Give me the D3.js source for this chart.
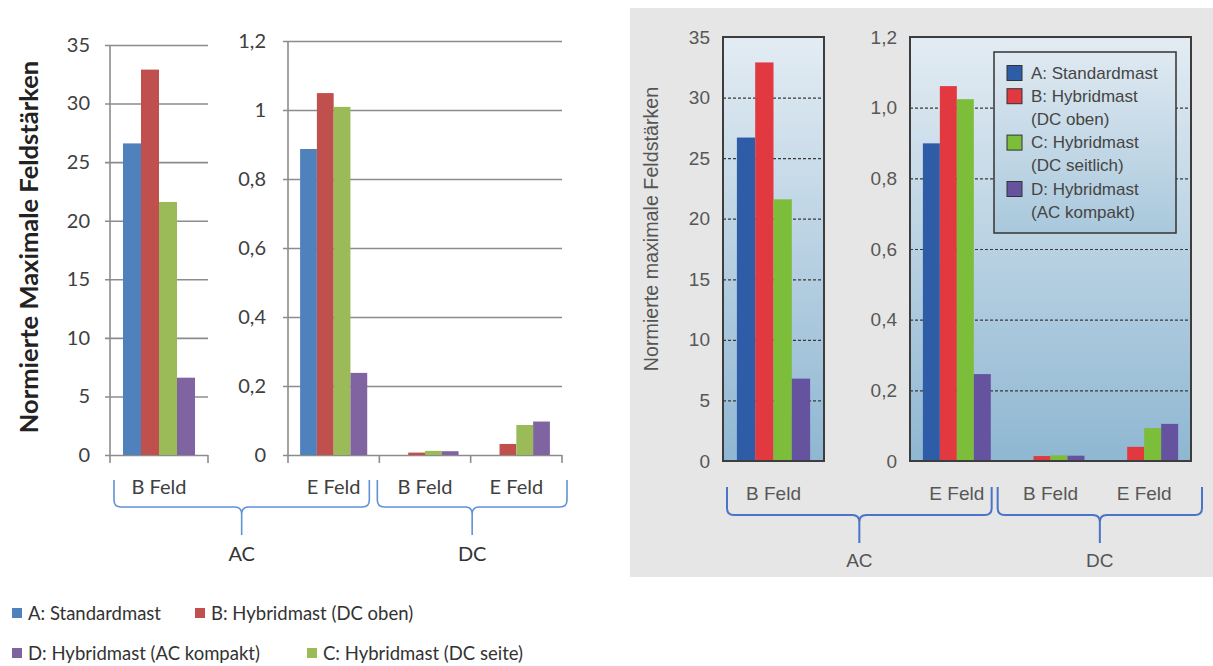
<!DOCTYPE html>
<html>
<head>
<meta charset="utf-8">
<script src="https://cdn.jsdelivr.net/npm/d3@7/dist/d3.min.js"></script>
<style>
  html, body { margin: 0; padding: 0; background: #ffffff; }
  svg { display: block; }
</style>
</head>
<body>
<svg id="chart" width="1213" height="666"></svg>
<script>
// ---- data ----
const seriesNames = ["A", "B", "C", "D"];
const categoriesB = [{ group: "AC", field: "B Feld" }];
const categoriesE = [
  { group: "AC", field: "E Feld" },
  { group: "DC", field: "B Feld" },
  { group: "DC", field: "E Feld" }
];

// left figure (values per series A, B, C, D)
const leftAcBFeld = [26.6, 32.9, 21.6, 6.6];
const leftAcEFeld = [0.887, 1.049, 1.009, 0.238];
const leftDcBFeld = [0, 0.007, 0.012, 0.011];
const leftDcEFeld = [0, 0.032, 0.087, 0.097];

// right figure
const rightAcBFeld = [26.7, 32.9, 21.6, 6.8];
const rightAcEFeld = [0.899, 1.061, 1.024, 0.246];
const rightDcBFeld = [0, 0.014, 0.016, 0.015];
const rightDcEFeld = [0, 0.040, 0.093, 0.105];

const ticksB = [0, 5, 10, 15, 20, 25, 30, 35];
const ticksE = [0, 0.2, 0.4, 0.6, 0.8, 1.0, 1.2];

const leftLegend = [
  { key: "A", label: "A: Standardmast" },
  { key: "B", label: "B: Hybridmast (DC oben)" },
  { key: "D", label: "D: Hybridmast (AC kompakt)" },
  { key: "C", label: "C: Hybridmast (DC seite)" }
];
const rightLegend = [
  { key: "A", lines: ["A: Standardmast"] },
  { key: "B", lines: ["B: Hybridmast", "(DC oben)"] },
  { key: "C", lines: ["C: Hybridmast", "(DC seitlich)"] },
  { key: "D", lines: ["D: Hybridmast", "(AC kompakt)"] }
];
const yTitleLeft = "Normierte Maximale Feldstärken";
const yTitleRight = "Normierte maximale Feldstärken";

// ---- styles ----
const leftColors = { A: "#4f81bd", B: "#c0504d", C: "#9bbb59", D: "#8064a2" };
const rightColors = { A: "#2f5ca6", B: "#e2383f", C: "#7cbd3a", D: "#6553a0" };

const svg = d3.select("#chart");
const defs = svg.append("defs");

const panelGrad = defs.append("linearGradient").attr("id", "panelGrad")
  .attr("x1", 0).attr("y1", 0).attr("x2", 0).attr("y2", 1);
panelGrad.append("stop").attr("offset", "0%").attr("stop-color", "#e3ecf3");
panelGrad.append("stop").attr("offset", "100%").attr("stop-color", "#8fb7d2");

const legendGrad = defs.append("linearGradient").attr("id", "legendGrad")
  .attr("x1", 0).attr("y1", 0).attr("x2", 0).attr("y2", 1);
legendGrad.append("stop").attr("offset", "0%").attr("stop-color", "#dfe9f1");
legendGrad.append("stop").attr("offset", "100%").attr("stop-color", "#a9c8dc");

const fmtLeft = v => v === 0 ? "0" : String(+v.toFixed(1)).replace(".", ",");
const fmtRight = v => v === 0 ? "0" : (Number.isInteger(v) && v > 2 ? String(v) : v.toFixed(1).replace(".", ","));

function rowsOf(cats, valueArrays) {
  return cats.map((c, i) => ({
    ...c,
    id: c.group + " " + c.field,
    values: seriesNames.map((s, j) => ({ key: s, value: valueArrays[i][j] }))
  }));
}

// draws one bar panel; returns the band scale for later annotations
function drawPanel(g, opt) {
  const x = d3.scaleBand().domain(opt.rows.map(r => r.id)).range(opt.xRange).padding(0);
  const y = d3.scaleLinear().domain(opt.yDomain).range(opt.yRange);
  const inner = d3.scaleBand().domain(seriesNames)
    .range([0, x.bandwidth() * opt.groupFrac]).padding(0);
  const groupOffset = x.bandwidth() * (1 - opt.groupFrac) / 2;
  const w = opt.xRange[1] - opt.xRange[0];

  if (opt.framed) {
    g.append("rect")
      .attr("x", opt.xRange[0]).attr("y", opt.yRange[1])
      .attr("width", w).attr("height", opt.yRange[0] - opt.yRange[1])
      .attr("fill", "url(#panelGrad)");
  }

  // y axis with gridlines
  const axis = d3.axisLeft(y).tickValues(opt.ticks).tickFormat(opt.format)
    .tickSizeInner(-w).tickSizeOuter(0).tickPadding(opt.labelPad);
  const ax = g.append("g").attr("transform", `translate(${opt.xRange[0]},0)`).call(axis);
  ax.select(".domain").remove();
  ax.selectAll(".tick text")
    .attr("font-family", opt.font).attr("font-size", opt.tickSize)
    .attr("fill", opt.textColor);
  ax.selectAll(".tick line")
    .attr("x1", opt.framed ? 0 : -5)
    .attr("stroke", opt.gridColor).attr("stroke-width", opt.gridWidth)
    .attr("stroke-dasharray", opt.gridDash || null);
  if (opt.framed) {
    ax.selectAll(".tick").filter(d => d === opt.yDomain[0] || d === opt.yDomain[1])
      .select("line").remove();
  }

  // bars
  const grp = g.append("g").selectAll("g").data(opt.rows).join("g")
    .attr("transform", r => `translate(${x(r.id) + groupOffset},0)`);
  grp.selectAll("rect").data(r => r.values).join("rect")
    .attr("x", d => inner(d.key))
    .attr("width", inner.bandwidth())
    .attr("y", d => y(d.value))
    .attr("height", d => y(0) - y(d.value))
    .attr("fill", d => opt.colors[d.key]);

  if (opt.framed) {
    g.append("rect")
      .attr("x", opt.xRange[0]).attr("y", opt.yRange[1])
      .attr("width", w).attr("height", opt.yRange[0] - opt.yRange[1])
      .attr("fill", "none").attr("stroke", "#3d3d3d").attr("stroke-width", 2);
  } else {
    // plain axis lines with category tick marks
    g.append("line")
      .attr("x1", opt.xRange[0]).attr("x2", opt.xRange[0])
      .attr("y1", opt.yRange[1]).attr("y2", opt.yRange[0])
      .attr("stroke", opt.gridColor).attr("stroke-width", opt.gridWidth);
    const bounds = [opt.xRange[0], ...opt.rows.map(r => x(r.id) + x.bandwidth())];
    g.append("g").selectAll("line").data(bounds).join("line")
      .attr("x1", d => d).attr("x2", d => d)
      .attr("y1", y(0)).attr("y2", y(0) + 8)
      .attr("stroke", opt.gridColor).attr("stroke-width", opt.gridWidth);
  }

  // category labels
  g.append("g").selectAll("text").data(opt.rows).join("text")
    .attr("x", r => x(r.id) + x.bandwidth() / 2)
    .attr("y", opt.catY)
    .attr("text-anchor", "middle").attr("dominant-baseline", "central")
    .attr("font-family", opt.font).attr("font-size", opt.catSize)
    .attr("fill", opt.textColor)
    .text(r => r.field);

  return x;
}

function bracePath(x1, x2, top, mid, bottom) {
  const r = 7, tip = (x1 + x2) / 2;
  return `M${x1},${top} L${x1},${mid - r} Q${x1},${mid} ${x1 + r},${mid} L${tip - r},${mid} ` +
    `Q${tip},${mid} ${tip},${mid + r} L${tip},${bottom} M${tip},${mid + r} ` +
    `Q${tip},${mid} ${tip + r},${mid} L${x2 - r},${mid} Q${x2},${mid} ${x2},${mid - r} L${x2},${top}`;
}

function drawBraces(g, opt) {
  opt.spans.forEach(s => {
    g.append("path").attr("d", bracePath(s.x1, s.x2, opt.top, opt.mid, opt.bottom))
      .attr("fill", "none").attr("stroke", opt.color).attr("stroke-width", opt.width);
    g.append("text")
      .attr("x", (s.x1 + s.x2) / 2).attr("y", opt.labelY)
      .attr("text-anchor", "middle").attr("dominant-baseline", "central")
      .attr("font-family", opt.font).attr("font-size", opt.size).attr("fill", opt.textColor)
      .text(s.label);
  });
}

// ================= left figure =================
const L = svg.append("g");
const leftCommon = {
  groupFrac: 0.735, colors: leftColors, font: "Lato, 'Open Sans', sans-serif",
  textColor: "#404040", gridColor: "#8c8c8c", gridWidth: 1.6,
  tickSize: 20, catSize: 20, catY: 486, framed: false
};
const lx1 = drawPanel(L, {
  ...leftCommon,
  rows: rowsOf(categoriesB, [leftAcBFeld]),
  xRange: [110, 208], yDomain: [0, 35], yRange: [455, 45],
  ticks: ticksB, format: fmtLeft, labelPad: 20
});
const lx2 = drawPanel(L, {
  ...leftCommon,
  rows: rowsOf(categoriesE, [leftAcEFeld, leftDcBFeld, leftDcEFeld]),
  xRange: [288, 562], yDomain: [0, 1.2], yRange: [455, 41],
  ticks: ticksE, format: fmtLeft, labelPad: 22
});
drawBraces(L, {
  spans: [
    { label: "AC", x1: 110 + 4, x2: lx2("AC E Feld") + lx2.bandwidth() - 10 },
    { label: "DC", x1: lx2("DC B Feld") - 2, x2: 562 + 5 }
  ],
  top: 480, mid: 507, bottom: 535, labelY: 553,
  color: "#6092d6", width: 1.6, font: leftCommon.font, size: 20, textColor: "#333"
});
L.append("text")
  .attr("transform", "translate(28,247) rotate(-90)")
  .attr("text-anchor", "middle").attr("dominant-baseline", "central")
  .attr("font-family", leftCommon.font).attr("font-weight", "bold")
  .attr("font-size", 25.5).attr("fill", "#222")
  .text(yTitleLeft);

// legend below the left figure
const legPos = [[12, 613], [195, 613], [12, 653], [307, 653]];
const lg = L.append("g").selectAll("g").data(leftLegend).join("g")
  .attr("transform", (d, i) => `translate(${legPos[i][0]},${legPos[i][1]})`);
lg.append("rect").attr("x", 0).attr("y", -5).attr("width", 10).attr("height", 10)
  .attr("fill", d => leftColors[d.key]);
lg.append("text").attr("x", 16).attr("y", 0).attr("dominant-baseline", "central")
  .attr("font-family", leftCommon.font).attr("font-size", 18.5).attr("fill", "#333")
  .text(d => d.label);

// ================= right figure =================
const R = svg.append("g");
R.append("rect").attr("x", 630).attr("y", 8).attr("width", 583).attr("height", 569)
  .attr("fill", "#e6e6e6");
const rightCommon = {
  groupFrac: 0.725, colors: rightColors, font: "'Liberation Sans', Arial, sans-serif",
  textColor: "#575757", gridColor: "#3a3a3a", gridWidth: 1.2, gridDash: "3,2",
  tickSize: 19, catSize: 19, catY: 493, framed: true
};
const rx1 = drawPanel(R, {
  ...rightCommon,
  rows: rowsOf(categoriesB, [rightAcBFeld]),
  xRange: [723, 824], yDomain: [0, 35], yRange: [461, 37],
  ticks: ticksB, format: fmtRight, labelPad: 13
});
const rx2 = drawPanel(R, {
  ...rightCommon,
  rows: rowsOf(categoriesE, [rightAcEFeld, rightDcBFeld, rightDcEFeld]),
  xRange: [910, 1191], yDomain: [0, 1.2], yRange: [461, 37],
  ticks: ticksE, format: fmtRight, labelPad: 13
});
drawBraces(R, {
  spans: [
    { label: "AC", x1: 723 + 4, x2: rx2("AC E Feld") + rx2.bandwidth() - 12 },
    { label: "DC", x1: rx2("DC B Feld") - 6, x2: 1191 + 11 }
  ],
  top: 487, mid: 515, bottom: 543, labelY: 560,
  color: "#4a74c6", width: 2, font: rightCommon.font, size: 19, textColor: "#555"
});
R.append("text")
  .attr("transform", "translate(651,229) rotate(-90)")
  .attr("text-anchor", "middle").attr("dominant-baseline", "central")
  .attr("font-family", rightCommon.font).attr("font-size", 19.7).attr("fill", "#555")
  .text(yTitleRight);

// legend box inside the right panel
const lb = R.append("g");
lb.append("rect").attr("x", 994).attr("y", 52).attr("width", 182).attr("height", 181)
  .attr("fill", "url(#legendGrad)").attr("stroke", "#3d3d3d").attr("stroke-width", 1.6);
let lineIdx = 0;
const lineH = 23.2, firstLine = 73;
rightLegend.forEach((d, i) => {
  const cy = firstLine + lineIdx * lineH;
  lb.append("rect").attr("x", 1007).attr("y", cy - 7.5).attr("width", 15).attr("height", 15)
    .attr("fill", rightColors[d.key]).attr("stroke", "#333").attr("stroke-width", 1);
  d.lines.forEach((t, k) => {
    lb.append("text").attr("x", 1031).attr("y", cy + k * lineH)
      .attr("dominant-baseline", "central")
      .attr("font-family", rightCommon.font).attr("font-size", 17).attr("fill", "#454545")
      .text(t);
  });
  lineIdx += d.lines.length;
});
</script>
</body>
</html>
